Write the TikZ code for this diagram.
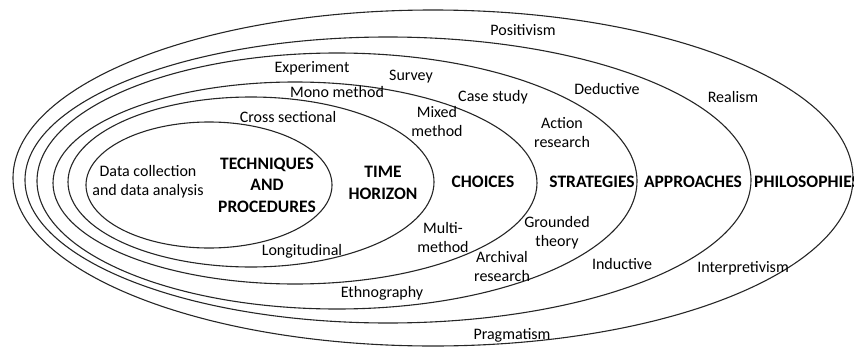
\documentclass[tikz,border=0pt]{standalone}
\usepackage{fontspec}
\setmainfont{Carlito}
\begin{document}
\begin{tikzpicture}[x=1pt,y=-1pt,
  ring/.style={draw=black!85, line width=1.1pt},
  lbl/.style={font=\fontsize{16}{19}\selectfont, align=center, inner sep=0pt},
  layer/.style={font=\fontsize{17.5}{21.5}\selectfont\bfseries, align=center, inner sep=0pt}]
\useasboundingbox (0,0) rectangle (854,348);
\clip (0,0) rectangle (854,348);

% nested layers, innermost first
\draw[ring] (209,185) ellipse [x radius=123, y radius=63];
\draw[ring] (251,182) ellipse [x radius=183, y radius=85];
\draw[ring] (295,183) ellipse [x radius=242, y radius=101];
\draw[ring] (337,181) ellipse [x radius=300, y radius=128];
\draw[ring] (388,180) ellipse [x radius=363, y radius=143];
\draw[ring] (433,178) ellipse [x radius=420, y radius=168];

% layer titles
\node[layer] (tech) at (267,185) {TECHNIQUES\\AND\\PROCEDURES};
\node[layer] (time) at (383,183) {TIME\\HORIZON};
\node[layer] (choices) at (483,182) {CHOICES};
\node[layer] (strat) at (592,182) {STRATEGIES};
\node[layer] (appr) at (693,182) {APPROACHES};
\node[layer, anchor=west] (phil) at (754,182) {PHILOSOPHIES};

% techniques and procedures
\node[lbl] (data) at (148,182) {Data collection\\and data analysis};

% time horizons
\node[lbl] (cross) at (288,117) {Cross sectional};
\node[lbl] (longi) at (302,251) {Longitudinal};

% choices
\node[lbl] (mono) at (337,92) {Mono method};
\node[lbl] (mixed) at (437,122) {Mixed\\method};
\node[lbl] (multi) at (443,238) {Multi-\\method};

% strategies
\node[lbl] (exper) at (312,68) {Experiment};
\node[lbl] (survey) at (411,77) {Survey};
\node[lbl] (case) at (493,97) {Case study};
\node[lbl] (action) at (562,133) {Action\\research};
\node[lbl] (ground) at (557,233) {Grounded\\theory};
\node[lbl] (archiv) at (502,267) {Archival\\research};
\node[lbl] (ethno) at (382,293) {Ethnography};

% approaches
\node[lbl] (deduct) at (607,89) {Deductive};
\node[lbl] (induct) at (622,264) {Inductive};

% philosophies
\node[lbl] (posit) at (523,30) {Positivism};
\node[lbl] (real) at (733,97) {Realism};
\node[lbl] (interp) at (743,268) {Interpretivism};
\node[lbl] (prag) at (512,335) {Pragmatism};
\end{tikzpicture}
\end{document}
